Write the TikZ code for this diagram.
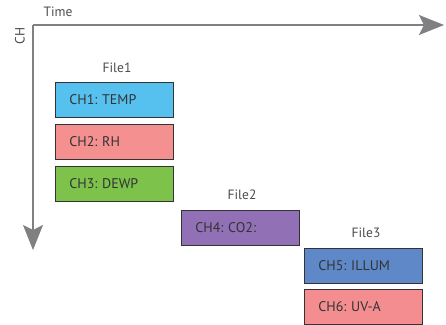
\documentclass[tikz,border=0pt]{standalone}
\usepackage{fontspec}
\setmainfont{PT Sans}
\frenchspacing
\usetikzlibrary{arrows.meta}
\definecolor{axisgray}{HTML}{808083}
\definecolor{txtgray}{HTML}{333333}
\definecolor{cA}{HTML}{56C1EE}
\definecolor{cB}{HTML}{F4908F}
\definecolor{cC}{HTML}{7DC24B}
\definecolor{cD}{HTML}{9270B5}
\definecolor{cE}{HTML}{5F88C8}
\definecolor{cF}{HTML}{F48D90}
\tikzset{
  chbox/.style={draw=black!80, line width=0.9pt, minimum width=118pt, minimum height=35pt,
    inner xsep=14pt, inner ysep=0pt, anchor=north west, font=\fontsize{14}{16}\selectfont\frenchspacing, text=txtgray,
    text width=90pt, align=left},
  filelabel/.style={font=\fontsize{13.5}{15}\selectfont, text=black!70},
  axis/.style={draw=axisgray, line width=1.3pt, -{Stealth[length=25pt,width=20pt,inset=5pt,fill=axisgray]}},
}
\begin{document}
\begin{tikzpicture}[x=1pt,y=-1pt]
\useasboundingbox (0,0) rectangle (446,324);
\coordinate (O) at (33,25);
\coordinate (T) at (444,25);
\coordinate (C) at (33,250);
\draw[axis] (O) -- (T);
\draw[axis] (O) -- (C);
\node[filelabel, anchor=west] (time) at (40,12) {Time};
\node[filelabel, rotate=90] (ch) at (20,36) {CH};

\node[chbox, fill=cA] (ch1) at (55,82) {CH1: TEMP};
\node[chbox, fill=cB] (ch2) at (55,124) {CH2: RH};
\node[chbox, fill=cC] (ch3) at (55,166) {CH3: DEWP};
\node[filelabel] (f1) at (117,68) {File1};

\node[chbox, fill=cD] (ch4) at (181,210) {CH4: CO2:};
\node[filelabel] (f2) at (242,195) {File2};

\node[chbox, fill=cE] (ch5) at (304,248) {CH5: ILLUM};
\node[chbox, fill=cF] (ch6) at (304,289) {CH6: UV-A};
\node[filelabel] (f3) at (366,233) {File3};
\end{tikzpicture}
\end{document}
